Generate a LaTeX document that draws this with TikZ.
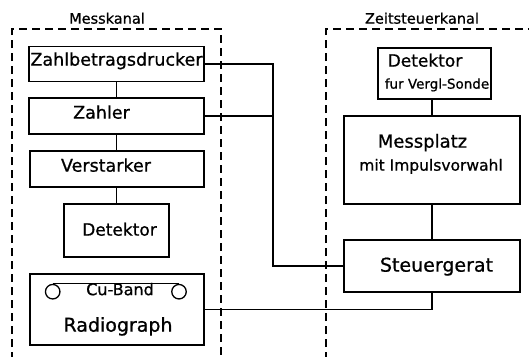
\documentclass[tikz,border=0pt]{standalone}
\usepackage{fontspec}
\setmainfont{DejaVu Sans}
\newfontfamily\lett{DejaVu Sans}[FakeBold=0.8]
\newcommand\fsz[1]{\lett\fontsize{#1}{#1}\selectfont}
\begin{document}
\begin{tikzpicture}[x=1pt,y=-1pt,
  blk/.style={draw, line width=1.5pt, inner sep=0pt},
  wire/.style={line width=1.3pt},
  frame/.style={line width=1.3pt, dash pattern=on 8pt off 5pt},
  txt/.style={inner sep=0pt, text height=0.73em, text depth=0pt},
  big/.style={txt, font=\fsz{17.5}},
  small/.style={txt, font=\fsz{14}},
  reel/.style={circle, draw, line width=1.3pt, minimum size=14.5pt, inner sep=0pt}]
\useasboundingbox (0,0) rectangle (529,356);

% channel frames
\draw[frame] (12,360) -- (12,29) -- (221,29) -- (221,360);
\draw[frame] (326,360) -- (326,29) -- (535,29);
\node[small, font=\fsz{14.5}] (mk) at (107,20) {Messkanal};
\node[small, font=\fsz{14.5}] (zk) at (422,20) {Zeitsteuerkanal};

% measuring channel
\node[blk, minimum width=175pt, minimum height=35pt] (zb) at (116.5,64) {};
\node[blk, minimum width=175pt, minimum height=36pt] (za) at (116.5,116) {};
\node[blk, minimum width=174pt, minimum height=36pt] (ve) at (117,169) {};
\node[blk, minimum width=105pt, minimum height=53pt] (de) at (116.5,230.5) {};
\node[blk, minimum width=174pt, minimum height=71pt] (ra) at (117,309.5) {};

\node[big] (zbT) at (116.5,62) {Zahlbetragsdrucker};
\node[big] (zaT) at (101.5,115) {Zahler};
\node[big] (veT) at (106,168) {Verstarker};
\node[big, font=\fsz{17}] (deT) at (119.5,232) {Detektor};
\node[big, font=\fsz{19}] (raT) at (118,328) {Radiograph};
\node[small, font=\fsz{16}] (cuT) at (120,291.5) {Cu-Band};
\node[reel] (r1) at (52.7,291.7) {};
\node[reel] (r2) at (179,291.7) {};
\draw[wire] (r1.north) -- (r2.north);

% timing channel
\node[blk, minimum width=113pt, minimum height=51pt] (dv) at (434.5,73.5) {};
\node[blk, minimum width=176pt, minimum height=88pt] (mp) at (432,160) {};
\node[blk, minimum width=176pt, minimum height=52pt] (st) at (432,266) {};

\node[big, font=\fsz{17}] (dvT) at (425,63) {Detektor};
\node[small, font=\fsz{13.5}] (dvS) at (437,85) {fur Vergl-Sonde};
\node[big, font=\fsz{18}] (mpT) at (422.5,144) {Messplatz};
\node[small, font=\fsz{15.5}] (mpS) at (431,167) {mit Impulsvorwahl};
\node[big, font=\fsz{19}] (stT) at (436.5,268) {Steuergerat};

% connections
\coordinate (j) at (273,116);
\draw[wire] (zb.south) -- (za.north);
\draw[wire] (za.south) -- (za.south |- ve.north);
\draw[wire] (ve.south -| de.north) -- (de.north);
\draw[wire] (mp.north |- dv.south) -- (mp.north);
\draw[wire] (mp.south) -- (st.north);
\draw[wire] (zb.east) -- (zb.east -| j) -- (j) -- (j |- st.west) -- (st.west);
\draw[wire] (za.east) -- (j);
\draw[wire] (ra.east) -- (ra.east -| st.south) -- (st.south);
\end{tikzpicture}
\end{document}
